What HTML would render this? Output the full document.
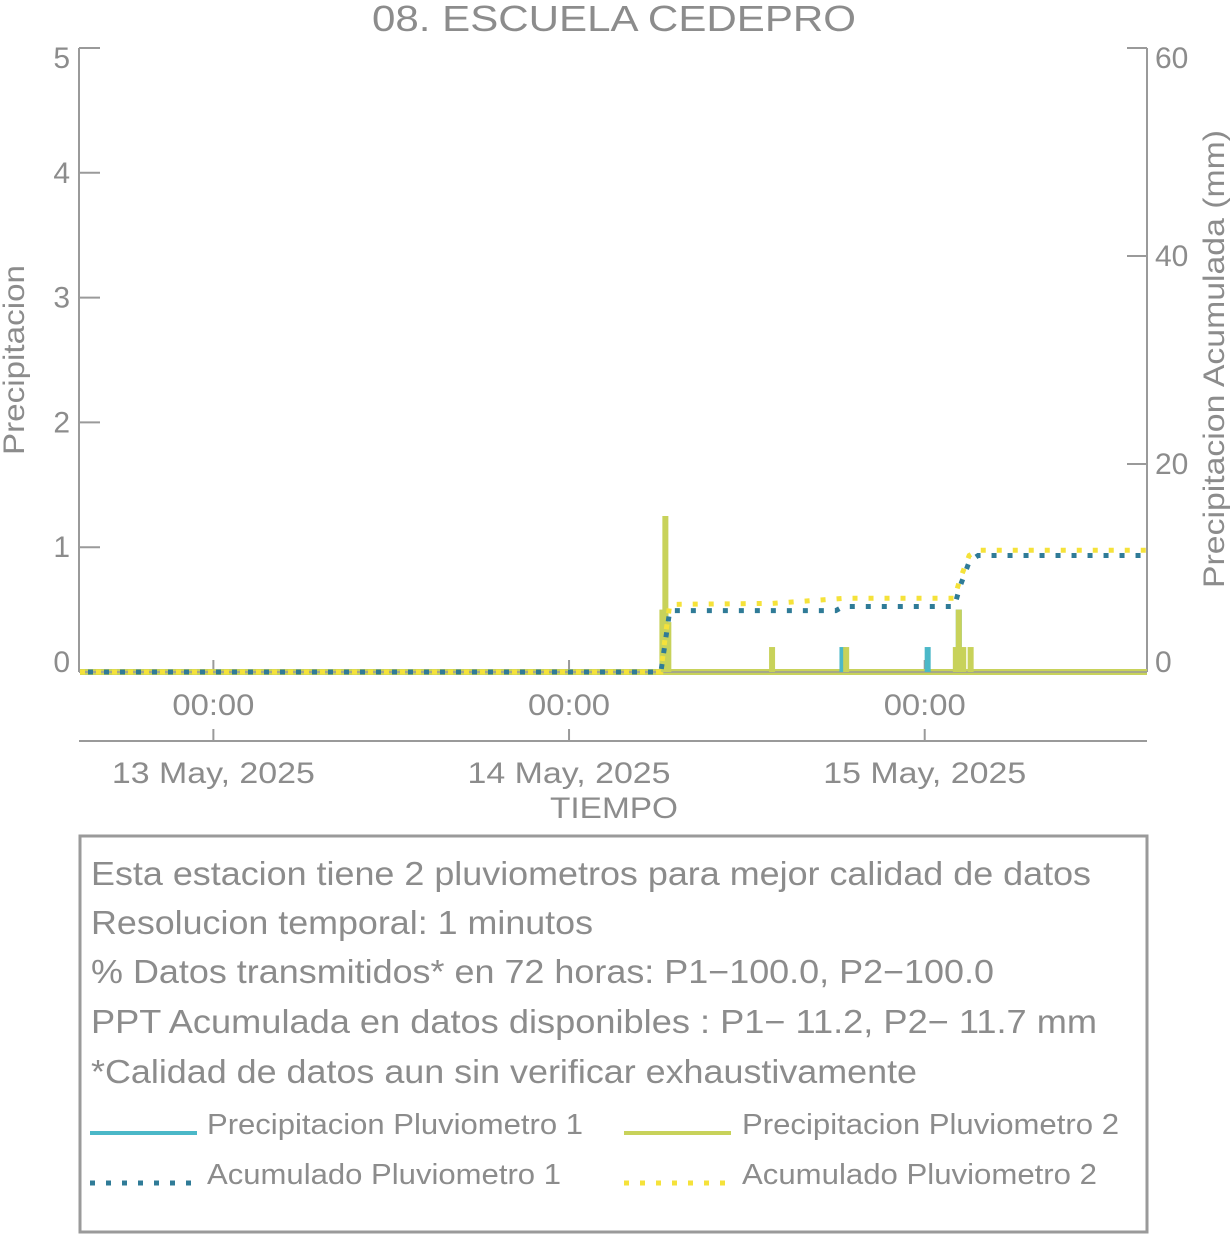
<!DOCTYPE html>
<html><head><meta charset="utf-8">
<style>
html,body{margin:0;padding:0;background:#fff;}
svg{display:block;font-family:"Liberation Sans",sans-serif;}
</style></head>
<body>
<svg width="1232" height="1236" viewBox="0 0 1232 1236" xmlns="http://www.w3.org/2000/svg">
<text x="614" y="31" text-anchor="middle" font-size="36" fill="#8c8c8c" textLength="484" lengthAdjust="spacingAndGlyphs">08. ESCUELA CEDEPRO</text>
<g id="axes"></g>
<g id="marks"></g>
<text transform="translate(24,360) rotate(-90)" text-anchor="middle" font-size="30" fill="#8c8c8c" textLength="190" lengthAdjust="spacingAndGlyphs">Precipitacion</text>
<text transform="translate(1224,359) rotate(-90)" text-anchor="middle" font-size="30" fill="#8c8c8c" textLength="458" lengthAdjust="spacingAndGlyphs">Precipitacion Acumulada (mm)</text>
<text x="614" y="818" text-anchor="middle" font-size="30" fill="#8c8c8c" textLength="128" lengthAdjust="spacingAndGlyphs">TIEMPO</text>
<rect x="80" y="836" width="1067" height="396" fill="none" stroke="#9a9a9a" stroke-width="3"/>
<g font-size="33" fill="#8c8c8c">
<text x="91" y="885" textLength="1000" lengthAdjust="spacingAndGlyphs">Esta estacion tiene 2 pluviometros para mejor calidad de datos</text>
<text x="91" y="934" textLength="502" lengthAdjust="spacingAndGlyphs">Resolucion temporal: 1 minutos</text>
<text x="91" y="983" textLength="903" lengthAdjust="spacingAndGlyphs">% Datos transmitidos* en 72 horas: P1−100.0, P2−100.0</text>
<text x="91" y="1033" textLength="1006" lengthAdjust="spacingAndGlyphs">PPT Acumulada en datos disponibles : P1− 11.2, P2− 11.7 mm</text>
<text x="91" y="1083" textLength="826" lengthAdjust="spacingAndGlyphs">*Calidad de datos aun sin verificar exhaustivamente</text>
</g>
<g font-size="29" fill="#8c8c8c">
<line x1="90" y1="1133" x2="197" y2="1133" stroke="#4bb8c8" stroke-width="4"/>
<text x="207" y="1134" textLength="376" lengthAdjust="spacingAndGlyphs">Precipitacion Pluviometro 1</text>
<line x1="624" y1="1133" x2="731" y2="1133" stroke="#c8d25a" stroke-width="4"/>
<text x="742" y="1134" textLength="377" lengthAdjust="spacingAndGlyphs">Precipitacion Pluviometro 2</text>
<line x1="90" y1="1183" x2="197" y2="1183" stroke="#2f7b97" stroke-width="5" stroke-dasharray="5,11"/>
<text x="207" y="1184" textLength="354" lengthAdjust="spacingAndGlyphs">Acumulado Pluviometro 1</text>
<line x1="624" y1="1183" x2="731" y2="1183" stroke="#f5e23a" stroke-width="5" stroke-dasharray="5,11"/>
<text x="742" y="1184" textLength="355" lengthAdjust="spacingAndGlyphs">Acumulado Pluviometro 2</text>
</g>
</svg>
<script>
// hours since 12 May 2025 15:00 (72h window)
const p1Hours = [39.5, 51.45, 57.2, 59.3];
const p1Values = [0.5, 0.2, 0.2, 0.5];
const p2Hours = [39.3, 39.5, 39.7, 46.7, 51.7, 59.1, 59.3, 59.6, 60.1];
const p2Values = [0.5, 1.25, 0.4, 0.2, 0.2, 0.2, 0.5, 0.2, 0.2];
const acc1Hours = [0, 39.2, 39.5, 39.8, 51, 51.5, 59, 59.4, 60, 60.6, 72];
const acc1Values = [0, 0, 3, 5.9, 5.9, 6.3, 6.3, 8.3, 10.6, 11.2, 11.2];
const acc2Hours = [0, 39.2, 39.5, 39.8, 46.7, 51.7, 59, 59.4, 60, 60.6, 72];
const acc2Values = [0, 0, 3.5, 6.5, 6.6, 7.1, 7.1, 9, 11.2, 11.7, 11.7];
const leftTicks = [0, 1, 2, 3, 4, 5];
const rightTicks = [0, 20, 40, 60];
const timeTickHours = [9, 33, 57];
const dateLabels = ["13 May, 2025", "14 May, 2025", "15 May, 2025"];

const NS = "http://www.w3.org/2000/svg";
const X0 = 80, X1 = 1147, Y0 = 672, Y1 = 48;
const xs = h => X0 + (X1 - X0) * h / 72;
const yl = v => Y0 - (Y0 - Y1) * v / 5;
const yr = v => Y0 - (Y0 - Y1) * v / 60;
const axes = document.getElementById('axes');
const marks = document.getElementById('marks');
function mk(tag, attrs, parent, txt) {
  const e = document.createElementNS(NS, tag);
  for (const k in attrs) e.setAttribute(k, attrs[k]);
  if (txt !== undefined) e.textContent = txt;
  parent.appendChild(e);
  return e;
}
const G = "#9a9a9a", T = "#8c8c8c";
let e;
e = mk('line', {x1: 79, y1: Y1, x2: 79, y2: Y0, stroke: G, 'stroke-width': 2}, axes);


e = mk('line', {x1: 1147, y1: Y1, x2: 1147, y2: Y0, stroke: G, 'stroke-width': 2}, axes);


e = mk('line', {x1: 79, y1: 741, x2: 1147, y2: 741, stroke: G, 'stroke-width': 2}, axes);


leftTicks.forEach(v => {
  e = mk('line', {x1: 79, y1: yl(v), x2: 100, y2: yl(v), stroke: G, 'stroke-width': 2}, axes);
  
  
  e = mk('text', {x: 70, y: yl(v) + (v === 0 ? 0 : 10) + (v === 5 ? 10 : 0), 'text-anchor': 'end', 'font-size': 30, fill: T}, axes, String(v));
  
  
});
rightTicks.forEach(v => {
  e = mk('line', {x1: 1127, y1: yr(v), x2: 1147, y2: yr(v), stroke: G, 'stroke-width': 2}, axes);
  
  
  e = mk('text', {x: 1155, y: yr(v) + (v === 0 ? 0 : 10) + (v === 60 ? 10 : 0), 'font-size': 30, fill: T}, axes, String(v));
  
  
});
timeTickHours.forEach((h, i) => {
  e = mk('line', {x1: xs(h), y1: Y0, x2: xs(h), y2: 660, stroke: G, 'stroke-width': 2}, axes);
  
  
  e = mk('text', {x: xs(h), y: 715, 'text-anchor': 'middle', 'font-size': 30, fill: T, textLength: 82, lengthAdjust: 'spacingAndGlyphs'}, axes, '00:00');
  
  
  e = mk('line', {x1: xs(h), y1: 729, x2: xs(h), y2: 741, stroke: G, 'stroke-width': 2}, axes);
  
  
  e = mk('text', {x: xs(h), y: 783, 'text-anchor': 'middle', 'font-size': 30, fill: T, textLength: 203, lengthAdjust: 'spacingAndGlyphs'}, axes, dateLabels[i]);
  
  
});
e = mk('line', {x1: X0, y1: 672, x2: X1, y2: 672, stroke: '#c8d25a', 'stroke-width': 6}, marks);


e = mk('line', {x1: X0, y1: 672, x2: X1, y2: 672, stroke: G, 'stroke-width': 1.5}, marks);


p1Hours.forEach((h, i) => {
  e = mk('rect', {x: xs(h) - 3, y: yl(p1Values[i]), width: 6, height: Y0 - yl(p1Values[i]), fill: '#4bb8c8'}, marks);
  
  
});
p2Hours.forEach((h, i) => {
  e = mk('rect', {x: xs(h) - 3, y: yl(p2Values[i]), width: 6, height: Y0 - yl(p2Values[i]), fill: '#c8d25a'}, marks);
  
  
});
function accPath(hs, vs) {
  return hs.map((h, i) => (i ? 'L' : 'M') + xs(h).toFixed(1) + ',' + yr(vs[i]).toFixed(1)).join(' ');
}
e = mk('path', {d: accPath(acc2Hours, acc2Values), fill: 'none', stroke: '#f5e23a', 'stroke-width': 5, 'stroke-dasharray': '5,11'}, marks);


e = mk('path', {d: accPath(acc1Hours, acc1Values), fill: 'none', stroke: '#2f7b97', 'stroke-width': 5, 'stroke-dasharray': '5,11', 'stroke-dashoffset': 8}, marks);


</script>
</body></html>
